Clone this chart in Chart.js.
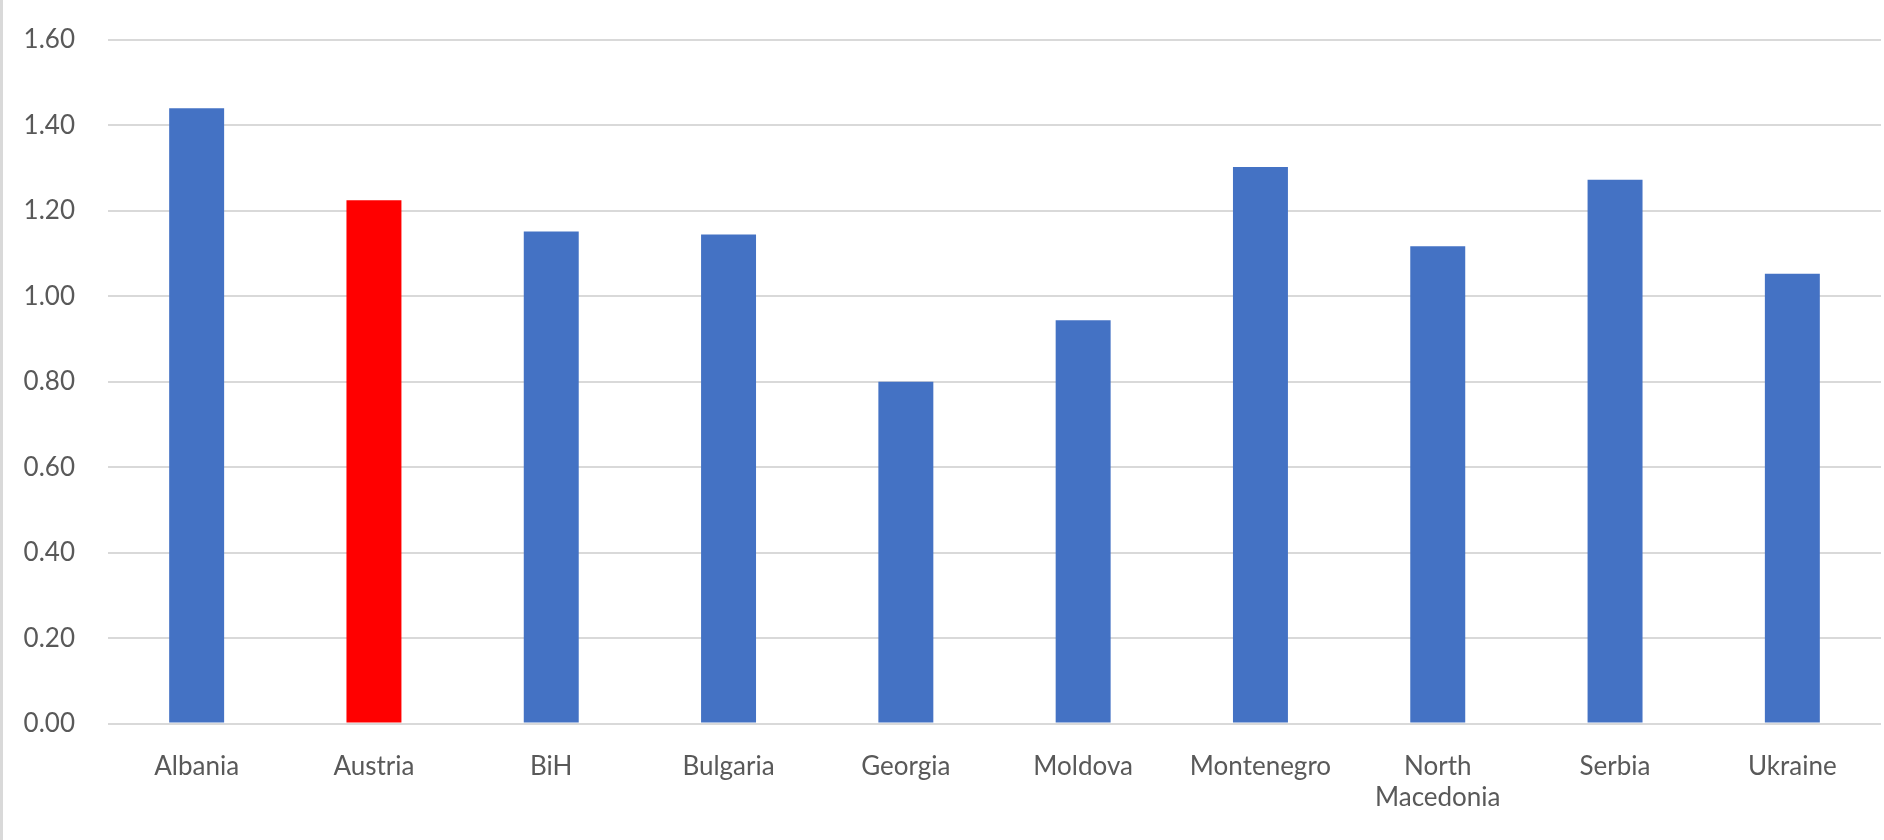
<!DOCTYPE html>
<html>
<head>
<meta charset="utf-8">
<script src="https://cdn.jsdelivr.net/npm/chart.js@4/dist/chart.umd.min.js"></script>
<style>
	html, body { margin: 0; padding: 0; background: #fff; }
	#wrap { position: relative; width: 1881px; height: 840px; border-left: 3px solid #d9d9d9; }
</style>
</head>
<body>
<div id="wrap"><canvas id="myChart"></canvas></div>
<script>
// values per country
var countries = ["Albania", "Austria", "BiH", "Bulgaria", "Georgia", "Moldova", "Montenegro", ["North", "Macedonia"], "Serbia", "Ukraine"];
var values = [1.44, 1.225, 1.152, 1.145, 0.80, 0.944, 1.303, 1.117, 1.273, 1.053];
var highlight = "Austria";

var yMax = 1.6;
var yStep = 0.2;

var barColors = countries.map(function(c) {
	return c === highlight ? "#ff0000" : "#4472c4";
});

var tickFont = { family: "Lato, 'Open Sans', sans-serif", size: 26 };

var ctx = document.getElementById("myChart");

var myChart = new Chart(ctx, {
	type: "bar",
	data: {
		labels: countries,
		datasets: [{
			data: values,
			backgroundColor: barColors,
			borderWidth: 0,
			barPercentage: 0.31,
			categoryPercentage: 1
		}]
	},
	options: {
		responsive: true,
		maintainAspectRatio: false,
		animation: false,
		layout: { padding: { top: 40, right: 3, bottom: 8, left: 0 } },
		plugins: {
			legend: { display: false },
			tooltip: { enabled: false }
		},
		scales: {
			x: {
				grid: { display: false },
				border: { display: false },
				ticks: {
					color: "#595959",
					font: tickFont,
					padding: 19,
					maxRotation: 0,
					autoSkip: false
				}
			},
			y: {
				min: 0,
				max: yMax,
				afterFit: function(scale) {
					// fixed axis width; the tick padding should not push the top down
					scale.width = 105;
					scale.paddingTop = 0;
				},
				grid: { color: "#d9d9d9", lineWidth: 2, drawTicks: false },
				border: { display: false },
				ticks: {
					stepSize: yStep,
					color: "#595959",
					font: tickFont,
					padding: 33,
					callback: function(v) { return v.toFixed(2); }
				}
			}
		}
	}
});
</script>
</body>
</html>
